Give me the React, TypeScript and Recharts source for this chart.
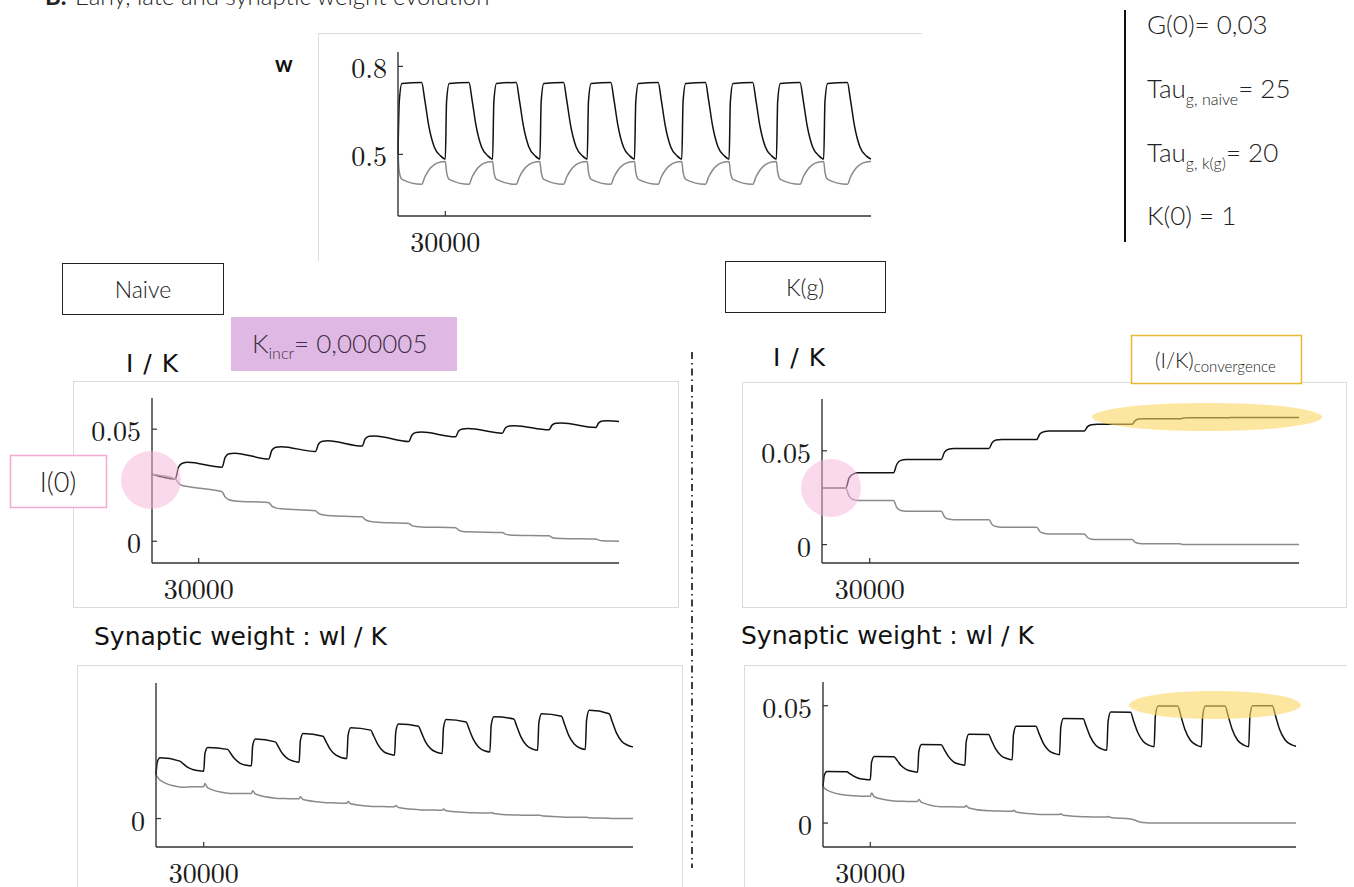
import React from 'react';
import { LineChart, Line, XAxis, YAxis } from 'recharts';

// Shared time grid for the w and synaptic-weight panels
const T = [
  0, 800, 2500, 15000, 17000, 19500, 23000, 27000,
  30000, 30800, 32500, 45000, 47000, 49500, 53000, 57000,
  60000, 60800, 62500, 75000, 77000, 79500, 83000, 87000,
  90000, 90800, 92500, 105000, 107000, 109500, 113000, 117000,
  120000, 120800, 122500, 135000, 137000, 139500, 143000, 147000,
  150000, 150800, 152500, 165000, 167000, 169500, 173000, 177000,
  180000, 180800, 182500, 195000, 197000, 199500, 203000, 207000,
  210000, 210800, 212500, 225000, 227000, 229500, 233000, 237000,
  240000, 240800, 242500, 255000, 257000, 259500, 263000, 267000,
  270000, 270800, 272500, 285000, 287000, 289500, 293000, 297000,
  300000,
];

// Time grid for the I/K panels
const TIK = [
  0,
  15000, 17000, 19500, 23000,
  45000, 47000, 49500, 53000,
  75000, 77000, 79500, 83000,
  105000, 107000, 109500, 113000,
  135000, 137000, 139500, 143000,
  165000, 167000, 169500, 173000,
  195000, 197000, 199500, 203000,
  225000, 227000, 229500, 233000,
  255000, 257000, 259500, 263000,
  285000, 287000, 289500, 293000,
  300000,
];

const X_TICKS = [30000];

// Top panel: w (early weights)
const wBlack = [
  0.500, 0.680, 0.742, 0.745, 0.685, 0.598, 0.525, 0.495,
  0.484, 0.680, 0.742, 0.745, 0.685, 0.598, 0.525, 0.495,
  0.484, 0.680, 0.742, 0.745, 0.685, 0.598, 0.525, 0.495,
  0.484, 0.680, 0.742, 0.745, 0.685, 0.598, 0.525, 0.495,
  0.484, 0.680, 0.742, 0.745, 0.685, 0.598, 0.525, 0.495,
  0.484, 0.680, 0.742, 0.745, 0.685, 0.598, 0.525, 0.495,
  0.484, 0.680, 0.742, 0.745, 0.685, 0.598, 0.525, 0.495,
  0.484, 0.680, 0.742, 0.745, 0.685, 0.598, 0.525, 0.495,
  0.484, 0.680, 0.742, 0.745, 0.685, 0.598, 0.525, 0.495,
  0.484, 0.680, 0.742, 0.745, 0.685, 0.598, 0.525, 0.495,
  0.484,
];
const wGray = [
  0.500, 0.440, 0.415, 0.398, 0.423, 0.446, 0.465, 0.474,
  0.476, 0.440, 0.415, 0.398, 0.423, 0.446, 0.465, 0.474,
  0.476, 0.440, 0.415, 0.398, 0.423, 0.446, 0.465, 0.474,
  0.476, 0.440, 0.415, 0.398, 0.423, 0.446, 0.465, 0.474,
  0.476, 0.440, 0.415, 0.398, 0.423, 0.446, 0.465, 0.474,
  0.476, 0.440, 0.415, 0.398, 0.423, 0.446, 0.465, 0.474,
  0.476, 0.440, 0.415, 0.398, 0.423, 0.446, 0.465, 0.474,
  0.476, 0.440, 0.415, 0.398, 0.423, 0.446, 0.465, 0.474,
  0.476, 0.440, 0.415, 0.398, 0.423, 0.446, 0.465, 0.474,
  0.476, 0.440, 0.415, 0.398, 0.423, 0.446, 0.465, 0.474,
  0.476,
];

// I/K naive
const naiveIKBlack = [
  0.0299,
  0.0278, 0.0330, 0.0348, 0.0352,
  0.0330, 0.0374, 0.0390, 0.0393,
  0.0367, 0.0406, 0.0419, 0.0422,
  0.0400, 0.0434, 0.0446, 0.0448,
  0.0425, 0.0457, 0.0468, 0.0470,
  0.0445, 0.0474, 0.0485, 0.0487,
  0.0466, 0.0492, 0.0501, 0.0503,
  0.0482, 0.0505, 0.0514, 0.0515,
  0.0497, 0.0518, 0.0526, 0.0527,
  0.0507, 0.0528, 0.0536, 0.0537,
  0.0534,
];
const naiveIKGray = [
  0.0299,
  0.0278, 0.0259, 0.0249, 0.0244,
  0.0221, 0.0197, 0.0185, 0.0180,
  0.0172, 0.0157, 0.0149, 0.0145,
  0.0136, 0.0124, 0.0118, 0.0115,
  0.0109, 0.0096, 0.0089, 0.0086,
  0.0079, 0.0070, 0.0066, 0.0064,
  0.0060, 0.0050, 0.0044, 0.0042,
  0.0039, 0.0032, 0.0028, 0.0027,
  0.0024, 0.0017, 0.0013, 0.0012,
  0.0010, 0.0005, 0.0002, 0.0001,
  0.0000,
];

// I/K K(g)
const kgIKBlack = [
  0.0302,
  0.0302, 0.0354, 0.0376, 0.0383,
  0.0383, 0.0427, 0.0449, 0.0454,
  0.0454, 0.0492, 0.0508, 0.0512,
  0.0512, 0.0543, 0.0557, 0.0560,
  0.0560, 0.0589, 0.0602, 0.0605,
  0.0605, 0.0629, 0.0639, 0.0642,
  0.0642, 0.0661, 0.0669, 0.0671,
  0.0671, 0.0674, 0.0676, 0.0676,
  0.0676, 0.0677, 0.0677, 0.0677,
  0.0677, 0.0677, 0.0677, 0.0677,
  0.0677,
];
const kgIKGray = [
  0.0302,
  0.0302, 0.0258, 0.0240, 0.0235,
  0.0235, 0.0198, 0.0182, 0.0178,
  0.0178, 0.0149, 0.0136, 0.0133,
  0.0133, 0.0107, 0.0096, 0.0093,
  0.0093, 0.0070, 0.0060, 0.0057,
  0.0057, 0.0038, 0.0029, 0.0027,
  0.0027, 0.0012, 0.0006, 0.0004,
  0.0004, 0.0001, 0.0000, 0.0000,
  0.0000, 0.0000, 0.0000, 0.0000,
  0.0000, 0.0000, 0.0000, 0.0000,
  0.0000,
];

// Synaptic weight wl/K naive
const naiveSWBlack = [
  0.0156, 0.0203, 0.0218, 0.0206, 0.0197, 0.0185, 0.0176, 0.0171,
  0.0170, 0.0234, 0.0255, 0.0248, 0.0233, 0.0214, 0.0198, 0.0191,
  0.0189, 0.0261, 0.0285, 0.0275, 0.0257, 0.0233, 0.0214, 0.0205,
  0.0202, 0.0279, 0.0305, 0.0295, 0.0275, 0.0249, 0.0228, 0.0218,
  0.0215, 0.0298, 0.0326, 0.0317, 0.0295, 0.0266, 0.0241, 0.0231,
  0.0227, 0.0311, 0.0339, 0.0331, 0.0307, 0.0275, 0.0249, 0.0237,
  0.0233, 0.0325, 0.0355, 0.0346, 0.0319, 0.0285, 0.0256, 0.0242,
  0.0239, 0.0334, 0.0365, 0.0357, 0.0329, 0.0293, 0.0263, 0.0249,
  0.0245, 0.0343, 0.0376, 0.0367, 0.0337, 0.0299, 0.0267, 0.0252,
  0.0248, 0.0353, 0.0388, 0.0376, 0.0346, 0.0308, 0.0276, 0.0262,
  0.0257,
];
const naiveSWGray = [
  0.0156, 0.0150, 0.0138, 0.0113, 0.0112, 0.0113, 0.0114, 0.0114,
  0.0114, 0.0126, 0.0110, 0.0091, 0.0090, 0.0090, 0.0090, 0.0090,
  0.0090, 0.0100, 0.0088, 0.0073, 0.0072, 0.0072, 0.0071, 0.0071,
  0.0071, 0.0078, 0.0068, 0.0058, 0.0057, 0.0057, 0.0056, 0.0055,
  0.0055, 0.0061, 0.0053, 0.0044, 0.0043, 0.0043, 0.0043, 0.0042,
  0.0042, 0.0047, 0.0040, 0.0032, 0.0031, 0.0031, 0.0031, 0.0030,
  0.0030, 0.0034, 0.0028, 0.0022, 0.0021, 0.0021, 0.0020, 0.0020,
  0.0020, 0.0022, 0.0018, 0.0013, 0.0013, 0.0012, 0.0012, 0.0012,
  0.0012, 0.0013, 0.0010, 0.0006, 0.0005, 0.0005, 0.0005, 0.0005,
  0.0005, 0.0005, 0.0003, 0.0001, 0.0000, 0.0000, 0.0000, 0.0000,
  0.0000,
];

// Synaptic weight wl/K K(g)
const kgSWBlack = [
  0.0156, 0.0204, 0.0220, 0.0219, 0.0211, 0.0200, 0.0190, 0.0186,
  0.0185, 0.0259, 0.0284, 0.0283, 0.0267, 0.0245, 0.0228, 0.0220,
  0.0217, 0.0306, 0.0335, 0.0334, 0.0312, 0.0284, 0.0260, 0.0250,
  0.0246, 0.0345, 0.0378, 0.0377, 0.0350, 0.0316, 0.0287, 0.0274,
  0.0270, 0.0377, 0.0413, 0.0412, 0.0382, 0.0343, 0.0310, 0.0296,
  0.0291, 0.0407, 0.0445, 0.0444, 0.0411, 0.0368, 0.0331, 0.0315,
  0.0310, 0.0432, 0.0473, 0.0472, 0.0435, 0.0388, 0.0349, 0.0331,
  0.0325, 0.0456, 0.0499, 0.0499, 0.0456, 0.0400, 0.0353, 0.0332,
  0.0325, 0.0456, 0.0499, 0.0499, 0.0456, 0.0400, 0.0353, 0.0332,
  0.0325, 0.0457, 0.0500, 0.0500, 0.0457, 0.0401, 0.0355, 0.0334,
  0.0327,
];
const kgSWGray = [
  0.0156, 0.0150, 0.0140, 0.0118, 0.0117, 0.0116, 0.0115, 0.0114,
  0.0114, 0.0128, 0.0112, 0.0094, 0.0093, 0.0093, 0.0092, 0.0092,
  0.0092, 0.0100, 0.0088, 0.0070, 0.0070, 0.0069, 0.0069, 0.0068,
  0.0068, 0.0075, 0.0064, 0.0052, 0.0052, 0.0051, 0.0051, 0.0050,
  0.0050, 0.0055, 0.0047, 0.0038, 0.0037, 0.0037, 0.0036, 0.0036,
  0.0036, 0.0040, 0.0033, 0.0027, 0.0027, 0.0026, 0.0026, 0.0026,
  0.0026, 0.0028, 0.0024, 0.0017, 0.0014, 0.0008, 0.0002, 0.0000,
  0.0000, 0.0000, 0.0000, 0.0000, 0.0000, 0.0000, 0.0000, 0.0000,
  0.0000, 0.0000, 0.0000, 0.0000, 0.0000, 0.0000, 0.0000, 0.0000,
  0.0000, 0.0000, 0.0000, 0.0000, 0.0000, 0.0000, 0.0000, 0.0000,
  0.0000,
];

const zip = (t: number[], b: number[], g: number[]) =>
  t.map((tt, i) => ({ t: tt, b: b[i], g: g[i] }));

const SERIF = '"Latin Modern Roman", "Liberation Serif", "DejaVu Serif", serif';
const SANS = 'Lato, "Open Sans", "Noto Sans", sans-serif';
const WIDE = '"DejaVu Sans", "Noto Sans", sans-serif';

const YTick = (props: any) => {
  const { x, y, payload } = props;
  return (
    <g>
      <line x1={x} x2={x + 5} y1={y} y2={y} stroke="#333" strokeWidth={1.2} />
      <text x={x - 11} y={y} textAnchor="end" dominantBaseline="central"
        fontFamily={SERIF} fontSize={28} fill="#1a1a1a">{String(payload.value)}</text>
    </g>
  );
};

const XTick = (props: any) => {
  const { x, y, payload } = props;
  return (
    <g>
      <line x1={x} x2={x} y1={y} y2={y - 5} stroke="#333" strokeWidth={1.2} />
      <text x={x} y={y + 24} textAnchor="middle" dominantBaseline="central"
        fontFamily={SERIF} fontSize={28} fill="#1a1a1a">{String(payload.value)}</text>
    </g>
  );
};

type PanelProps = {
  px0: number; px1: number; py0: number; py1: number;
  yDomain: [number, number]; yTicks: number[];
  data: { t: number; b: number; g: number }[];
};

const Panel = ({ px0, px1, py0, py1, yDomain, yTicks, data }: PanelProps) => {
  const yw = 90, xh = 50, mt = 10, mr = 10;
  const width = px1 - px0 + yw + mr;
  const height = py1 - py0 + mt + xh;
  return (
    <div style={{ position: 'absolute', left: px0 - yw, top: py0 - mt, width, height }}>
      <LineChart width={width} height={height} data={data}
        margin={{ top: mt, right: mr, left: 0, bottom: 0 }}>
        <XAxis dataKey="t" type="number" domain={[0, 300000]} ticks={X_TICKS}
          interval={0} height={xh} tickSize={0} tickMargin={0} tick={XTick}
          axisLine={{ stroke: '#333', strokeWidth: 1.4 }} />
        <YAxis type="number" domain={yDomain} ticks={yTicks} interval={0}
          width={yw} tickSize={0} tickMargin={0} tick={YTick}
          axisLine={{ stroke: '#333', strokeWidth: 1.4 }} />
        <Line dataKey="b" type="monotone" stroke="#111" strokeWidth={1.5}
          dot={false} isAnimationActive={false} />
        <Line dataKey="g" type="monotone" stroke="#8a8a8a" strokeWidth={1.5}
          dot={false} isAnimationActive={false} />
      </LineChart>
    </div>
  );
};

const frame = (left: number, top: number, w: number, h: number, sides: string): React.CSSProperties => ({
  position: 'absolute', left, top, width: w, height: h, boxSizing: 'border-box',
  borderStyle: 'solid', borderColor: '#dcdcdc',
  borderTopWidth: sides.includes('t') ? 1 : 0,
  borderLeftWidth: sides.includes('l') ? 1 : 0,
  borderRightWidth: sides.includes('r') ? 1 : 0,
  borderBottomWidth: sides.includes('b') ? 1 : 0,
});

export default function App() {
  return (
    <div style={{ position: 'absolute', left: 0, top: 0, width: 1354, height: 887,
      overflow: 'hidden', background: '#fff' }}>
      {/* frames */}
      <div style={frame(318, 33, 604, 228, 'tl')} />
      <div style={frame(73, 381, 606, 227, 'tlrb')} />
      <div style={frame(742, 382, 605, 226, 'tlrb')} />
      <div style={frame(77, 665, 606, 240, 'tlr')} />
      <div style={frame(744, 665, 603, 240, 'tl')} />

      {/* charts */}
      <Panel px0={398} px1={871} py0={52} py1={216} yDomain={[0.29, 0.849]}
        yTicks={[0.5, 0.8]} data={zip(T, wBlack, wGray)} />
      <Panel px0={152} px1={619} py0={398} py1={563} yDomain={[-0.0097, 0.0639]}
        yTicks={[0, 0.05]} data={zip(TIK, naiveIKBlack, naiveIKGray)} />
      <Panel px0={822} px1={1299} py0={399} py1={563} yDomain={[-0.0098, 0.0776]}
        yTicks={[0, 0.05]} data={zip(TIK, kgIKBlack, kgIKGray)} />
      <Panel px0={156} px1={633} py0={683} py1={847} yDomain={[-0.0102, 0.0486]}
        yTicks={[0]} data={zip(T, naiveSWBlack, naiveSWGray)} />
      <Panel px0={823} px1={1296} py0={682} py1={847} yDomain={[-0.0102, 0.0601]}
        yTicks={[0, 0.05]} data={zip(T, kgSWBlack, kgSWGray)} />

      {/* annotations */}
      <svg width={1354} height={887} style={{ position: 'absolute', left: 0, top: 0, pointerEvents: 'none' }}>
        {/* header (cut off at the top, as in the source figure) */}
        <text x={45} y={5} fontFamily={SANS} fontSize={24} fill="#222">
          <tspan fontWeight={700}>B.</tspan>
          <tspan x={75} fontWeight={300}>Early, late and synaptic weight evolution</tspan>
        </text>

        <text x={275} y={72} fontFamily={SANS} fontSize={22} fontWeight={700} fill="#111">w</text>

        {/* right parameters */}
        <line x1={1125} x2={1125} y1={10} y2={242} stroke="#111" strokeWidth={2} />
        <g fontFamily={SANS} fontSize={26} fontWeight={300} fill="#222">
          <text x={1147} y={34}>G(0)= 0,03</text>
          <text x={1147} y={98}>Tau<tspan fontSize={16} dy={7}>g, naive</tspan><tspan dy={-7}>= 25</tspan></text>
          <text x={1147} y={162}>Tau<tspan fontSize={16} dy={7}>g, k(g)</tspan><tspan dy={-7}>= 20</tspan></text>
          <text x={1147} y={225}>K(0) = 1</text>
        </g>

        {/* boxes */}
        <rect x={62.5} y={263.5} width={161} height={51} fill="none" stroke="#222" strokeWidth={1} />
        <text x={143} y={289} textAnchor="middle" dominantBaseline="central"
          fontFamily={SANS} fontSize={23} fontWeight={300} fill="#222">Naive</text>

        <rect x={725.5} y={261.5} width={160} height={51} fill="none" stroke="#222" strokeWidth={1} />
        <text x={805} y={287} textAnchor="middle" dominantBaseline="central"
          fontFamily={SANS} fontSize={23} fontWeight={300} fill="#222">K(g)</text>

        <rect x={231} y={317} width={226} height={54} fill="#dfb9e3" />
        <text x={252} y={353} fontFamily={SANS} fontSize={26} fontWeight={300} fill="#3d2f45">
          K<tspan fontSize={16} dy={6}>incr</tspan><tspan dy={-6}>= 0,000005</tspan>
        </text>

        <text x={126} y={372} fontFamily={WIDE} fontSize={25} fill="#111" letterSpacing={1}>I / K</text>
        <text x={773} y={366} fontFamily={WIDE} fontSize={25} fill="#111" letterSpacing={1}>I / K</text>

        <rect x={1131.5} y={335.5} width={170} height={48} fill="#fff" stroke="#e9b730" strokeWidth={1.5} />
        <text x={1155} y={368} fontFamily={SANS} fontSize={21} fontWeight={300} fill="#222">
          (I/K)<tspan fontSize={15} dy={4}>convergence</tspan>
        </text>

        <rect x={10.5} y={455.5} width={96} height={52} fill="#fff" stroke="#f4a9d2" strokeWidth={1.5} />
        <text x={58} y={481} textAnchor="middle" dominantBaseline="central"
          fontFamily={SANS} fontSize={27} fontWeight={300} fill="#222">I(0)</text>

        <text x={94} y={645} fontFamily={WIDE} fontSize={25} fill="#111">Synaptic weight : wl / K</text>
        <text x={741} y={644} fontFamily={WIDE} fontSize={25} fill="#111">Synaptic weight : wl / K</text>

        {/* highlight ellipses */}
        <ellipse cx={151} cy={480} rx={30} ry={29} fill="#f8b4dc" opacity={0.5} />
        <ellipse cx={831} cy={488} rx={30} ry={29} fill="#f8b4dc" opacity={0.5} />
        <ellipse cx={1207} cy={417} rx={115} ry={14} fill="#fcd55f" opacity={0.6} />
        <ellipse cx={1215} cy={705} rx={86} ry={14} fill="#fcd55f" opacity={0.6} />

        {/* dash-dot separator */}
        <line x1={692} x2={692} y1={352} y2={868} stroke="#111" strokeWidth={1.6}
          strokeDasharray="7 4 1.5 4" />
      </svg>
    </div>
  );
}
